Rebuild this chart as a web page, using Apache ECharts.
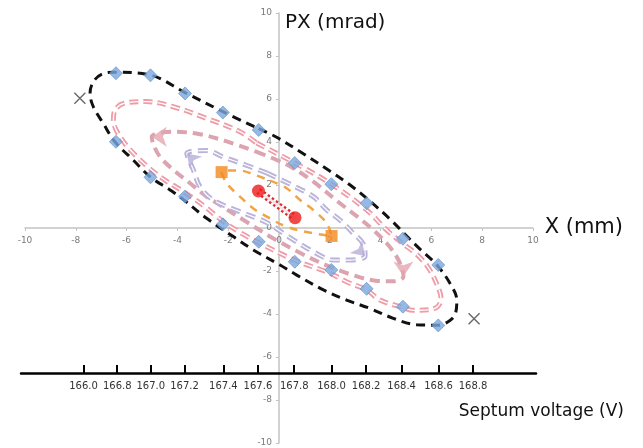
<!DOCTYPE html>
<html><head><meta charset="utf-8">
<script src="https://cdn.jsdelivr.net/npm/echarts@6/dist/echarts.min.js"></script>
<style>html,body{margin:0;padding:0;background:#fff}#c{width:643px;height:448px}</style>
</head><body><div id="c"></div>
<script>
// ---- data ----
const septumLabels = ['166.0','166.8','167.0','167.2','167.4','167.6','167.8','168.0','168.2','168.4','168.6','168.8'];
const septumX = [-7.70,-6.37,-5.05,-3.72,-2.19,-0.83,0.60,2.07,3.43,4.83,6.28,7.64];

const diamondX     = [-6.42,-5.06,-3.70,-2.21,-0.80,0.62,2.06,3.45,4.88,6.27];
const diamondUpper = [7.20,7.10,6.26,5.37,4.56,3.02,2.04,1.15,-0.50,-1.72];
const diamondLower = [4.01,2.36,1.46,0.17,-0.64,-1.57,-1.95,-2.83,-3.66,-4.53];

const crossX = [-7.84, 7.68];
const crossY = [6.04, -4.22];

const orangeX = [-2.26, 2.07];
const orangeY = [2.60, -0.37];

const redX = [-0.81, 0.63];
const redY = [1.72, 0.48];

const purpleX = [-3.63, 3.39];
const purpleY = [3.47, -1.30];

const pinkX = [-5.01, 4.90];
const pinkY = [4.25, -2.26];

const blackLoop = [[-0.8,4.62],[-0.09,4.22],[0.96,3.45],[2.0,2.65],[2.8,2.0],[3.58,1.25],[4.4,0.38],[4.95,-0.28],[5.55,-0.98],[6.2,-1.7],[6.73,-2.57],[7.0,-3.35],[6.95,-3.97],[6.73,-4.3],[6.27,-4.52],[5.42,-4.5],[4.5,-4.2],[3.58,-3.74],[2.66,-3.35],[1.75,-2.88],[0.7,-2.19],[0.04,-1.72],[-1.01,-1.02],[-1.8,-0.4],[-2.85,0.45],[-3.85,1.40],[-4.29,1.77],[-5.08,2.39],[-5.74,3.16],[-6.46,4.01],[-6.92,4.87],[-7.31,5.64],[-7.44,6.26],[-7.31,6.80],[-6.95,7.17],[-6.46,7.24],[-5.08,7.12],[-3.70,6.30],[-2.19,5.40],[-0.8,4.62]];
const pinkOuterLoop = [[-0.88,3.95],[0.63,3.02],[2.05,2.05],[3.45,0.84],[4.2,-0.05],[4.9,-0.75],[5.4,-1.2],[5.85,-1.8],[6.2,-2.57],[6.38,-3.3],[6.25,-3.65],[5.94,-3.8],[5.29,-3.83],[4.83,-3.68],[3.98,-3.35],[3.45,-2.88],[2.66,-2.5],[2.0,-2.1],[0.63,-1.5],[-0.6,-0.8],[-1.4,-0.3],[-2.19,0.3],[-2.98,1.05],[-3.77,1.7],[-4.69,2.39],[-5.6,3.32],[-6.26,4.25],[-6.52,5.02],[-6.45,5.5],[-6.1,5.8],[-5.21,5.88],[-4.16,5.64],[-2.85,5.1],[-1.54,4.48],[-0.88,3.95]];
const pinkInnerLoop = [[-0.9,3.55],[0.3,2.95],[1.3,2.2],[2.4,1.15],[3.06,0.55],[3.71,-0.09],[4.24,-0.71],[4.63,-1.33],[4.85,-1.9],[4.9,-2.26],[4.5,-2.48],[3.8,-2.45],[2.93,-2.2],[1.9,-1.75],[0.9,-1.2],[-0.2,-0.5],[-1.3,0.3],[-2.3,1.05],[-2.85,1.46],[-3.5,2.08],[-4.16,2.70],[-4.69,3.32],[-4.95,3.9],[-5.01,4.25],[-4.16,4.48],[-3.11,4.36],[-2.06,4.03],[-0.9,3.55]];
const purpleLoop = [[-0.48,2.56],[0.5,2.0],[1.35,1.46],[1.88,0.84],[2.4,0.37],[2.86,-0.17],[3.32,-0.75],[3.39,-1.3],[2.8,-1.49],[2.14,-1.49],[1.5,-1.2],[0.43,-0.45],[-0.48,0.25],[-1.54,0.76],[-2.59,1.3],[-3.11,1.92],[-3.37,2.7],[-3.63,3.47],[-2.85,3.6],[-2.19,3.3],[-1.54,3.03],[-0.48,2.56]];
const orangeLoop = [[-0.35,2.2],[0.3,1.85],[0.83,1.3],[1.35,0.84],[1.88,0.22],[2.07,-0.37],[1.35,-0.25],[0.3,0.06],[-0.48,0.53],[-1.01,0.91],[-1.54,1.46],[-2.06,2.08],[-2.26,2.6],[-1.6,2.68],[-0.9,2.45],[-0.35,2.2]];

// ---- build ----
const zip = (xs, ys) => xs.map((x, i) => [x, ys[i]]);
const diamonds = zip(diamondX, diamondUpper).concat(zip(diamondX, diamondLower));
const FONT = 'DejaVu Sans';

function loop(data, color, width, dash, z, smooth) {
  return { type: 'line', data: data, symbol: 'none', smooth: smooth == null ? 0.35 : smooth, z: z,
    lineStyle: { color: color, width: width, type: dash, cap: 'butt' }, silent: true };
}

const chart = echarts.init(document.getElementById('c'), null, { renderer: 'canvas' });
chart.setOption({
  animation: false,
  backgroundColor: '#fff',
  grid: [
    { left: 25, right: 110, top: 13, bottom: 5 },
    { left: 21, right: 107, top: 365, height: 8 }
  ],
  xAxis: [
    { type: 'value', min: -10, max: 10, interval: 2, gridIndex: 0, position: 'bottom', offset: -215,
      axisLine: { onZero: false, lineStyle: { color: '#c3c3c3', width: 1.5 } },
      axisTick: { length: 3, lineStyle: { color: '#c3c3c3' } },
      axisLabel: { fontSize: 9, color: '#7a7a7a', margin: 8, fontFamily: FONT },
      splitLine: { show: false },
      name: 'X (mm)', nameLocation: 'end', nameGap: 7,
      nameTextStyle: { fontSize: 21, color: '#111', fontFamily: FONT, align: 'left', verticalAlign: 'middle' } },
    { type: 'value', min: -10.16, max: 10.12, gridIndex: 1,
      axisLine: { onZero: false, lineStyle: { color: '#000', width: 2.5 } },
      axisTick: { customValues: septumX, inside: true, length: 8, lineStyle: { color: '#000', width: 2 } },
      axisLabel: { customValues: septumX, margin: 8, fontSize: 10, color: '#333', fontFamily: FONT,
        formatter: function (v) {
          let best = 0;
          septumX.forEach((s, i) => { if (Math.abs(s - v) < Math.abs(septumX[best] - v)) best = i; });
          return septumLabels[best];
        } },
      splitLine: { show: false },
      name: 'Septum voltage (V)', nameLocation: 'end', nameGap: 88,
      nameTextStyle: { fontSize: 17, color: '#111', fontFamily: FONT, align: 'right', verticalAlign: 'top', padding: [30, 0, 0, 0] } }
  ],
  yAxis: [
    { type: 'value', min: -10, max: 10, interval: 2, gridIndex: 0, position: 'left', offset: -254,
      axisLine: { onZero: false, lineStyle: { color: '#c3c3c3', width: 1.5 } },
      axisTick: { length: 3, lineStyle: { color: '#c3c3c3' } },
      axisLabel: { fontSize: 9, color: '#7a7a7a', margin: 7, fontFamily: FONT },
      splitLine: { show: false },
      name: 'PX (mrad)', nameLocation: 'end', nameGap: -10,
      nameTextStyle: { fontSize: 20, color: '#111', fontFamily: FONT, align: 'left', verticalAlign: 'middle', padding: [0, 0, 0, 6] } },
    { type: 'value', gridIndex: 1, show: false, min: 0, max: 1 }
  ],
  series: [
    loop(blackLoop, '#111', 3, [9, 6], 2),
    loop(pinkOuterLoop, '#ee9ca8', 5, [9, 5], 3),
    loop(pinkOuterLoop, '#ffffff', 1.4, [9, 5], 4),
    loop(pinkInnerLoop, '#dba4b0', 4, [10, 6], 5),
    loop(purpleLoop, '#bab4db', 5, [10, 6], 6),
    loop(purpleLoop, '#ffffff', 1.2, [10, 6], 7),
    loop(orangeLoop, '#f0a446', 2.5, [8, 7], 8),
    loop(zip(redX, redY), '#e02a30', 7, [2.5, 2.5], 9, false),
    loop(zip(redX, redY), '#fbe3e4', 2.4, 'solid', 10, false),
    { type: 'scatter', data: diamonds, symbol: 'diamond', symbolSize: 13, z: 12,
      itemStyle: { color: '#7ba7dc', borderColor: '#5c8ecb', borderWidth: 0.8 } },
    { type: 'scatter', data: zip(crossX, crossY), symbol: 'path://M0,0L10,10M10,0L0,10', symbolSize: 11, z: 12,
      itemStyle: { color: 'rgba(0,0,0,0)', borderColor: '#444', borderWidth: 1.4 } },
    { type: 'scatter', data: zip(orangeX, orangeY), symbol: 'rect', symbolSize: 12, z: 12,
      itemStyle: { color: '#f28a1e' } },
    { type: 'scatter', data: zip(redX, redY), symbol: 'circle', symbolSize: 13, z: 12,
      itemStyle: { color: '#ee1c1c' } },
    { type: 'scatter', data: zip(purpleX, purpleY), symbol: 'arrow', symbolSize: 13, z: 11,
      symbolRotate: function (v) { return v[0] < 0 ? 45 : -135; },
      itemStyle: { color: '#b7aed6' } },
    { type: 'scatter', data: zip(pinkX, pinkY), symbol: 'arrow', symbolSize: 15, z: 11,
      symbolRotate: function (v) { return v[0] < 0 ? 90 : 180; },
      itemStyle: { color: '#e4a6b1' } }
  ]
});
</script>
</body></html>
